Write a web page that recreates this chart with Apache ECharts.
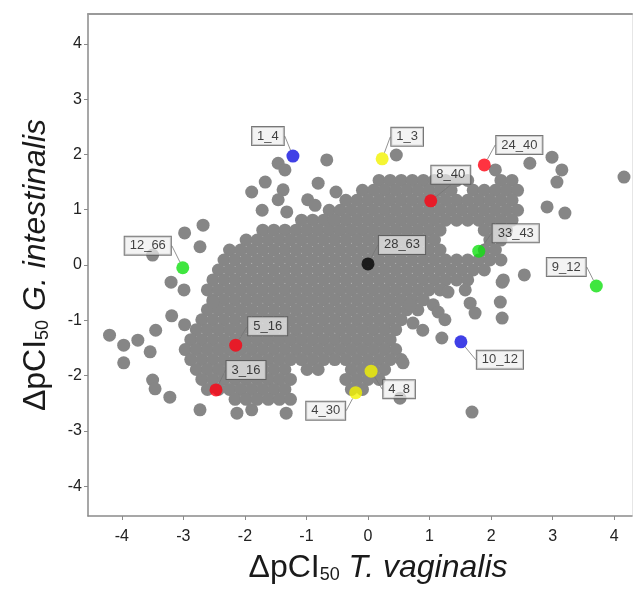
<!DOCTYPE html>
<html>
<head>
<meta charset="utf-8">
<script src="https://cdn.jsdelivr.net/npm/echarts@6/dist/echarts.min.js"></script>
<style>html,body{margin:0;padding:0;background:#fff;}#c{width:637px;height:589px;}</style>
</head>
<body>
<div id="c"></div>
<script>
// ---- data ----
const tickValues = [-4, -3, -2, -1, 0, 1, 2, 3, 4];

// dense central cloud, row by row (y value, x values)
const grayRowY = [1.53, 1.35, 1.17, 0.99, 0.81, 0.63, 0.45, 0.27, 0.09, -0.09, -0.27, -0.45, -0.63, -0.81, -0.99, -1.17, -1.35, -1.53, -1.71, -1.89, -2.07, -2.25, -2.43];
const grayRowX = [
  [0.18,0.36,0.54,0.72,0.90,1.08,1.26,1.44,1.62,2.16,2.34],
  [-0.09,0.09,0.27,0.45,0.63,0.81,0.99,1.17,1.35,1.71,1.89,2.07,2.25,2.43],
  [-0.36,-0.18,0,0.18,0.36,0.54,0.72,0.90,1.08,1.26,1.44,1.62,1.80,1.98,2.16,2.34],
  [-0.63,-0.45,-0.27,-0.09,0.09,0.27,0.45,0.63,0.81,0.99,1.17,1.35,1.53,1.71,1.89,2.07,2.25,2.43],
  [-1.08,-0.90,-0.72,-0.54,-0.36,-0.18,0,0.18,0.36,0.54,0.72,0.90,1.08,1.26,1.44,1.62,1.80,1.98,2.16,2.34],
  [-1.71,-1.53,-1.35,-1.17,-0.99,-0.81,-0.63,-0.45,-0.27,-0.09,0.09,0.27,0.45,0.63,0.81,0.99,1.17,1.89,2.07,2.25],
  [-1.98,-1.80,-1.62,-1.44,-1.26,-1.08,-0.90,-0.72,-0.54,-0.36,-0.18,0,0.18,0.36,0.54,0.72,0.90,1.08,1.98,2.16],
  [-2.25,-2.07,-1.89,-1.71,-1.53,-1.35,-1.17,-0.99,-0.81,-0.63,-0.45,-0.27,-0.09,0.09,0.27,0.45,0.63,0.81,0.99,1.17,1.89,2.07],
  [-2.34,-2.16,-1.98,-1.80,-1.62,-1.44,-1.26,-1.08,-0.90,-0.72,-0.54,-0.36,-0.18,0,0.18,0.36,0.54,0.72,0.90,1.08,1.26,1.44,1.62,1.80,1.98,2.16],
  [-2.43,-2.25,-2.07,-1.89,-1.71,-1.53,-1.35,-1.17,-0.99,-0.81,-0.63,-0.45,-0.27,-0.09,0.09,0.27,0.45,0.63,0.81,0.99,1.17,1.35,1.53,1.71,1.89],
  [-2.52,-2.34,-2.16,-1.98,-1.80,-1.62,-1.44,-1.26,-1.08,-0.90,-0.72,-0.54,-0.36,-0.18,0,0.18,0.36,0.54,0.72,0.90,1.08,1.26,1.44,1.62],
  [-2.61,-2.43,-2.25,-2.07,-1.89,-1.71,-1.53,-1.35,-1.17,-0.99,-0.81,-0.63,-0.45,-0.27,-0.09,0.09,0.27,0.45,0.63,0.81,0.99,1.17],
  [-2.52,-2.34,-2.16,-1.98,-1.80,-1.62,-1.44,-1.26,-1.08,-0.90,-0.72,-0.54,-0.36,-0.18,0,0.18,0.36,0.54,0.72,0.90],
  [-2.61,-2.43,-2.25,-2.07,-1.89,-1.71,-1.53,-1.35,-1.17,-0.99,-0.81,-0.63,-0.45,-0.27,-0.09,0.09,0.27,0.45,0.63,0.81],
  [-2.70,-2.52,-2.34,-2.16,-1.98,-1.80,-1.62,-1.44,-1.26,-1.08,-0.90,-0.72,-0.54,-0.36,-0.18,0,0.18,0.36,0.54],
  [-2.79,-2.61,-2.43,-2.25,-2.07,-1.89,-1.71,-1.53,-1.35,-1.17,-0.99,-0.81,-0.63,-0.45,-0.27,-0.09,0.09,0.27,0.45],
  [-2.88,-2.70,-2.52,-2.34,-2.16,-1.98,-1.80,-1.62,-1.44,-1.26,-1.08,-0.90,-0.72,-0.54,-0.36,-0.18,0,0.18,0.36],
  [-2.97,-2.79,-2.61,-2.43,-2.25,-2.07,-1.89,-1.71,-1.53,-1.35,-1.17,-0.99,-0.81,-0.63,-0.45,-0.27,-0.09,0.09,0.27,0.45],
  [-2.88,-2.70,-2.52,-2.34,-2.16,-1.98,-1.80,-1.62,-1.44,-1.26,-1.08,-0.90,-0.72,-0.54,-0.36,-0.18,0,0.18,0.36,0.54],
  [-2.79,-2.61,-2.43,-2.25,-2.07,-1.89,-1.71,-1.53,-1.35,-0.99,-0.81,-0.27,-0.09,0.09,0.27],
  [-2.70,-2.52,-2.34,-2.16,-1.98,-1.80,-1.62,-1.44,-1.26,-0.36,-0.18,0,0.18],
  [-2.61,-2.43,-2.25,-2.07,-1.89,-1.71,-1.53,-1.35,-0.27,-0.09],
  [-2.16,-1.98,-1.80,-1.62,-1.44,-1.26]
];

// scattered points around the cloud
const grayScattered = [
  [-1.46,1.84],[-1.35,1.72],[-0.67,1.90],[-1.67,1.50],[-1.89,1.32],[-1.38,1.36],[-1.46,1.18],
  [-0.81,1.48],[-0.52,1.32],[-0.98,1.18],[-0.86,1.08],[-1.72,0.99],[-1.32,0.96],[-0.55,0.81],
  [0.46,1.99],[2.07,1.72],[2.63,1.84],[2.99,1.95],[3.15,1.72],[3.07,1.50],[4.16,1.59],
  [2.91,1.05],[3.20,0.94],[2.54,-0.18],[2.18,-0.31],
  [-2.68,0.72],[-2.98,0.58],[-2.73,0.33],[-3.50,0.18],[-3.20,-0.31],[-2.99,-0.45],[-2.52,-0.67],
  [-3.19,-0.92],[-2.98,-1.08],[-3.45,-1.18],[-4.20,-1.27],[-3.97,-1.45],[-3.74,-1.36],[-3.97,-1.77],
  [-3.54,-1.57],[-3.50,-2.08],[-3.46,-2.24],[-3.22,-2.39],[-2.73,-2.62],[-2.13,-2.68],[-1.89,-2.62],[-1.33,-2.68],
  [1.30,-0.49],[1.58,-0.45],[0.68,-0.72],[1.06,-0.72],[1.14,-0.85],[1.25,-0.99],[0.89,-1.18],[1.20,-1.32],
  [0.73,-1.05],[1.66,-0.69],[1.74,-0.87],[2.15,-0.67],[2.18,-0.96],[2.20,-0.27],[0.52,-2.41],[1.69,-2.66],[0.57,-1.77]
];

// highlighted compounds
const hlNames  = ['1_4','1_3','24_40','8_40','28_63','33_43','12_66','9_12','5_16','3_16','10_12','4_8','4_30'];
const hlX      = [-1.22, 0.23, 1.89, 1.02, 0.00, 1.80, -3.01, 3.71, -2.15, -2.47, 1.51, 0.05, -0.20];
const hlY      = [1.97, 1.92, 1.81, 1.16, 0.02, 0.25, -0.05, -0.38, -1.45, -2.26, -1.39, -1.92, -2.31];
const hlGroup  = ['blue','yellow','red','red','black','green','green','green','red','red','blue','yellow','yellow'];

// ---- presentation ----
const groupColor = {blue:'#1010e0', yellow:'#f2f200', red:'#ff0010', black:'#000000', green:'#10e010'};
const labelShift = [[-25,-20],[25,-22],[35,-20],[20,-26],[34,-19],[37,-18],[-35,-22],[-30,-19],[32,-19],[30,-20],[39,18],[28,18],[-30,18]];

const grayData = [];
grayRowY.forEach((y, i) => grayRowX[i].forEach(x => grayData.push([x, y])));
grayScattered.forEach(p => grayData.push(p));

const hlData = hlNames.map((n, i) => ({
  name: n,
  value: [hlX[i], hlY[i]],
  itemStyle: {color: groupColor[hlGroup[i]]}
}));

const FONT = "'Liberation Sans', Arial, sans-serif";
const XMIN = -4.55, XMAX = 4.29, YMIN = -4.54, YMAX = 4.54;

const titleRich = {
  m: {fontSize: 32, fontFamily: FONT, color: '#1a1a1a', verticalAlign: 'bottom', lineHeight: 38},
  s: {fontSize: 18, fontFamily: FONT, color: '#1a1a1a', verticalAlign: 'bottom', lineHeight: 38, padding: [11, 0, 0, 0]},
  i: {fontSize: 32, fontFamily: FONT, color: '#1a1a1a', fontStyle: 'italic', verticalAlign: 'bottom', lineHeight: 38}
};

const chart = echarts.init(document.getElementById('c'), null, {renderer: 'canvas'});
chart.setOption({
  animation: false,
  backgroundColor: '#ffffff',
  grid: {left: 88, right: 5, top: 14, bottom: 73, show: false, containLabel: false, outerBoundsMode: 'none'},
  xAxis: [{
    type: 'value', min: XMIN, max: XMAX, position: 'bottom',
    axisLine: {show: true, onZero: false, lineStyle: {color: '#8a8a8a', width: 1.5}},
    axisTick: {show: true, length: 4, customValues: tickValues, lineStyle: {color: '#8a8a8a'}},
    axisLabel: {customValues: tickValues, color: '#222', fontSize: 16, fontFamily: FONT, margin: 13},
    splitLine: {show: false},
    name: '{m|ΔpCI}{s|50}{i| T. vaginalis}',
    nameLocation: 'middle', nameGap: 30,
    nameTextStyle: {padding: [0, 0, 0, 36], rich: titleRich}
  }, {
    type: 'value', min: XMIN, max: XMAX, position: 'top',
    axisLine: {show: true, onZero: false, lineStyle: {color: '#9a9a9a', width: 2}},
    axisTick: {show: false}, axisLabel: {show: false}, splitLine: {show: false}
  }],
  yAxis: [{
    type: 'value', min: YMIN, max: YMAX, position: 'left',
    axisLine: {show: true, onZero: false, lineStyle: {color: '#8a8a8a', width: 1.5}},
    axisTick: {show: true, length: 4, customValues: tickValues, lineStyle: {color: '#8a8a8a'}},
    axisLabel: {customValues: tickValues, color: '#222', fontSize: 16, fontFamily: FONT, margin: 6},
    splitLine: {show: false},
    name: '{m|ΔpCI}{s|50}{i| G. intestinalis}',
    nameLocation: 'middle', nameGap: 36,
    nameTextStyle: {rich: titleRich}
  }, {
    type: 'value', min: YMIN, max: YMAX, position: 'right',
    axisLine: {show: true, onZero: false, lineStyle: {color: '#e6e6e6', width: 1}},
    axisTick: {show: false}, axisLabel: {show: false}, splitLine: {show: false}
  }],
  series: [{
    type: 'scatter',
    data: grayData,
    symbolSize: 13,
    itemStyle: {color: '#868686', opacity: 1},
    silent: true,
    z: 2
  }, {
    type: 'scatter',
    data: hlData,
    symbolSize: 13,
    z: 5,
    label: {
      show: true, position: 'inside',
      formatter: '{b}',
      fontSize: 13, fontFamily: FONT, color: '#111',
      backgroundColor: 'rgba(238,238,238,0.88)',
      borderColor: '#555', borderWidth: 1,
      padding: [3, 5, 2, 5]
    },
    labelLine: {show: true, lineStyle: {color: '#777', width: 0.8}},
    labelLayout: function (p) {
      const s = labelShift[p.dataIndex];
      return {dx: s[0], dy: s[1], hideOverlap: false};
    }
  }]
});
</script>
</body>
</html>
